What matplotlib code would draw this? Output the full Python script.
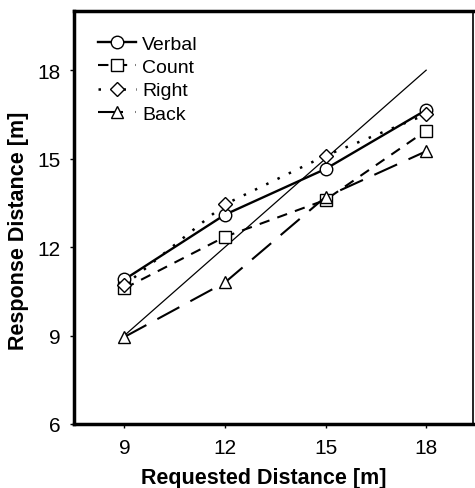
"""Requested vs response distance"""
import matplotlib
matplotlib.use('Agg')
import matplotlib.pyplot as plt

plt.rcParams['font.family'] = ['Liberation Sans', 'DejaVu Sans']

# Data
requested = [9, 12, 15, 18]
verbal = [10.9, 13.1, 14.65, 16.65]
count = [10.6, 12.35, 13.6, 15.95]
right = [10.7, 13.45, 15.1, 16.5]
back = [8.95, 10.8, 13.7, 15.25]
identity = [9, 18]

fig = plt.figure(figsize=(4.75, 4.89), dpi=100)
ax = fig.add_axes([0.156, 0.131, 0.84, 0.844])

mk = dict(markersize=9, markerfacecolor='white', markeredgecolor='black',
          markeredgewidth=1.0, color='black')

ax.plot(identity, identity, color='black', linewidth=0.9)
ax.plot(requested, verbal, '-o', linewidth=1.7, label='Verbal', **mk)
ax.plot(requested, count, '--s', linewidth=1.5, dashes=(5, 4), label='Count', **mk)
ax.plot(requested, right, ':D', linewidth=1.8, dashes=(1, 4), label='Right',
        **{**mk, 'markersize': 7})
ax.plot(requested, back, '-^', linewidth=1.5, dashes=(12, 6), label='Back', **mk)

ax.set_xlim(7.5, 19.4)
ax.set_ylim(6, 20)
ax.set_xticks(requested)
ax.set_yticks([6, 9, 12, 15, 18])
ax.tick_params(labelsize=15, length=3, width=1, pad=7)

for side in ('left', 'bottom', 'top'):
    ax.spines[side].set_linewidth(2.5)
ax.spines['right'].set_linewidth(1.2)

ax.set_xlabel('Requested Distance [m]', fontsize=15.5, fontweight='bold')
ax.set_ylabel('Response Distance [m]', fontsize=15.5, fontweight='bold')
ax.xaxis.set_label_coords(0.475, -0.105)
ax.yaxis.set_label_coords(-0.113, 0.47)

ax.legend(loc='upper left', frameon=False, fontsize=14, handlelength=2.0,
          handletextpad=0.3, labelspacing=0.3, borderaxespad=0.5,
          bbox_to_anchor=(0.015, 0.985))

fig.savefig('out.png', dpi=100)
